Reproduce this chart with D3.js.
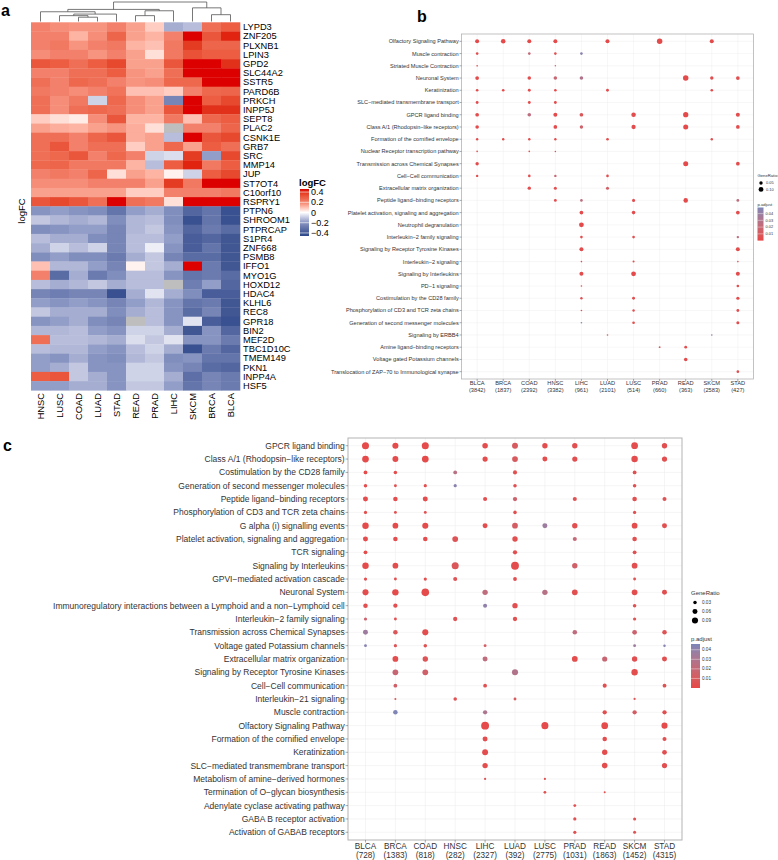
<!DOCTYPE html>
<html>
<head>
<meta charset="utf-8">
<script src="https://cdn.jsdelivr.net/npm/d3@7"></script>
<style>
  body { margin: 0; background: #fff; }
  text { font-family: "Liberation Sans", Arial, sans-serif; }
</style>
</head>
<body>
<div id="chart"></div>
<script>
// ---------- panel a: heatmap data ----------
const heatCancers = ["HNSC","LUSC","COAD","LUAD","STAD","READ","PRAD","LIHC","SKCM","BRCA","BLCA"];
const heatGenes = ["LYPD3","ZNF205","PLXNB1","LPIN3","GPD2","SLC44A2","SSTR5","PARD6B","PRKCH","INPP5J",
  "SEPT8","PLAC2","CSNK1E","GRB7","SRC","MMP14","JUP","ST7OT4","C10orf10","RSPRY1",
  "PTPN6","SHROOM1","PTPRCAP","S1PR4","ZNF668","PSMB8","IFFO1","MYO1G","HOXD12","HDAC4",
  "KLHL6","REC8","GPR18","BIN2","MEF2D","TBC1D10C","TMEM149","PKN1","INPP4A","HSF5"];
// rows follow heatGenes, columns follow heatCancers; null = not available (grey)
const logFC = [
  [0.20,0.18,0.17,0.17,0.20,0.15,0.08,-0.15,-0.12,0.25,0.30],
  [0.20,0.20,0.12,0.18,0.28,0.15,0.12,0.20,0.45,0.32,0.42],
  [0.20,0.22,0.17,0.20,0.22,0.12,0.10,0.22,0.38,0.28,0.28],
  [0.18,0.20,0.20,0.17,0.20,0.15,0.05,0.22,0.33,0.30,0.30],
  [0.32,0.30,0.25,0.30,0.35,0.15,0.15,0.32,0.45,0.45,0.40],
  [0.20,0.20,0.25,0.25,0.30,0.17,0.15,0.25,0.45,0.45,0.45],
  [0.25,0.20,0.27,0.25,0.20,0.17,0.18,0.27,0.27,0.45,0.45],
  [0.22,0.20,0.18,0.20,0.24,0.10,0.10,0.08,0.20,0.27,0.28],
  [0.25,0.18,0.22,-0.08,0.27,0.18,0.15,-0.25,0.45,0.30,0.35],
  [0.25,0.18,0.25,0.27,0.25,0.18,0.15,0.32,0.45,0.40,0.40],
  [0.08,0.05,0.03,0.18,0.32,0.12,0.12,0.22,0.10,0.27,0.30],
  [0.15,0.13,0.12,0.15,0.17,0.13,0.05,null,0.20,0.20,0.28],
  [0.25,0.25,0.20,0.28,0.32,0.13,0.15,-0.12,0.45,0.32,0.35],
  [0.25,0.32,0.20,0.25,0.25,0.08,0.15,0.27,0.15,0.30,0.25],
  [0.25,0.27,0.32,0.20,0.27,0.20,-0.08,-0.06,0.38,-0.18,0.35],
  [0.27,0.28,0.22,0.22,0.22,0.12,-0.12,0.30,0.42,0.22,0.30],
  [0.20,0.22,0.20,0.28,0.05,0.15,0.12,0.02,-0.08,0.30,0.35],
  [0.18,0.18,0.18,0.20,0.20,0.20,0.15,0.38,0.22,0.45,0.45],
  [0.15,0.15,0.15,0.15,0.15,0.08,0.08,0.20,0.20,0.20,0.22],
  [0.32,0.35,0.32,0.25,0.45,0.25,0.22,0.05,0.45,0.45,0.45],
  [-0.20,-0.18,-0.20,-0.22,-0.30,-0.18,-0.15,-0.22,-0.35,-0.30,-0.42],
  [-0.10,-0.13,-0.15,-0.13,-0.22,-0.13,-0.12,-0.22,-0.42,-0.30,-0.42],
  [-0.22,-0.20,-0.18,-0.18,-0.25,-0.13,-0.10,-0.20,-0.35,-0.28,-0.33],
  [-0.12,-0.15,-0.15,-0.22,-0.25,-0.12,-0.12,-0.18,-0.38,-0.35,-0.40],
  [-0.15,-0.08,-0.12,-0.08,-0.25,-0.12,-0.03,-0.20,-0.38,-0.30,-0.40],
  [-0.22,-0.18,-0.22,-0.22,-0.28,-0.15,-0.10,-0.25,-0.33,-0.33,-0.40],
  [0.10,-0.13,-0.13,-0.18,-0.25,0.02,-0.10,-0.15,0.45,-0.28,-0.40],
  [0.20,-0.33,-0.15,-0.28,-0.22,-0.12,-0.12,-0.20,-0.30,-0.28,-0.33],
  [-0.12,-0.15,-0.13,-0.10,-0.15,-0.12,-0.12,null,-0.27,-0.18,-0.35],
  [-0.25,-0.27,-0.25,-0.25,-0.42,-0.15,-0.05,-0.15,-0.22,-0.38,-0.38],
  [-0.18,-0.20,-0.18,-0.20,-0.25,-0.18,-0.13,-0.20,-0.30,-0.28,-0.40],
  [-0.10,-0.15,-0.15,-0.15,-0.22,-0.15,-0.12,-0.20,-0.33,-0.25,-0.40],
  [-0.20,-0.18,-0.15,-0.22,-0.25,null,-0.12,-0.20,-0.05,-0.38,-0.42],
  [-0.13,-0.13,-0.12,-0.18,-0.20,-0.08,-0.08,-0.15,-0.40,-0.20,-0.35],
  [0.25,-0.12,-0.12,-0.13,-0.15,-0.06,-0.10,-0.05,-0.20,-0.20,-0.28],
  [-0.12,-0.13,-0.13,-0.18,-0.20,-0.12,-0.08,-0.15,-0.42,-0.28,-0.35],
  [-0.18,-0.20,-0.15,-0.20,-0.22,-0.13,-0.10,-0.22,-0.20,-0.30,-0.30],
  [-0.18,-0.15,-0.10,-0.20,-0.20,-0.08,-0.08,-0.20,-0.25,-0.33,-0.35],
  [0.30,0.32,-0.10,-0.15,-0.20,-0.08,-0.08,-0.15,-0.32,-0.25,-0.28],
  [-0.18,-0.18,-0.15,-0.15,-0.20,-0.10,-0.10,-0.18,-0.30,-0.25,-0.28]
];
// column dendrogram (merge heights, relative)
const colTree = {h: 1.0, children: [
  {h: 0.62, children: [
    {h: 0.5, children: [{name: "HNSC"}, {h: 0.38, children: [
      {h: 0.3, children: [{name: "LUSC"}, {h: 0.22, children: [{name: "COAD"}, {name: "LUAD"}]}]},
      {name: "STAD"}]}]},
    {h: 0.55, children: [{h: 0.3, children: [{name: "READ"}, {name: "PRAD"}]}, {name: "LIHC"}]}
  ]},
  {h: 0.7, children: [{name: "SKCM"}, {h: 0.35, children: [{name: "BRCA"}, {name: "BLCA"}]}]}
]};
const logFCTicks = [0.4, 0.2, 0, -0.2, -0.4];

// ---------- panels b and c: enrichment dot plots ----------
const cancers = ["BLCA","BRCA","COAD","HNSC","LIHC","LUAD","LUSC","PRAD","READ","SKCM","STAD"];
const countsB = [3842,1837,2392,3382,961,2101,514,660,363,2583,427];
const countsC = [728,1383,818,282,2327,392,2775,1031,1863,1452,4315];

const pathwaysB = ["Olfactory Signaling Pathway","Muscle contraction","Striated Muscle Contraction","Neuronal System",
  "Keratinization","SLC\u2212mediated transmembrane transport","GPCR ligand binding","Class A/1 (Rhodopsin\u2212like receptors)",
  "Formation of the cornified envelope","Nuclear Receptor transcription pathway","Transmission across Chemical Synapses",
  "Cell\u2212Cell communication","Extracellular matrix organization","Peptide ligand\u2212binding receptors",
  "Platelet activation, signaling and aggregation","Neutrophil degranulation","Interleukin\u22122 family signaling",
  "Signaling by Receptor Tyrosine Kinases","Interleukin\u22122 signaling","Signaling by Interleukins","PD\u22121 signaling",
  "Costimulation by the CD28 family","Phosphorylation of CD3 and TCR zeta chains","Generation of second messenger molecules",
  "Signaling by ERBB4","Amine ligand\u2212binding receptors","Voltage gated Potassium channels",
  "Translocation of ZAP\u221270 to Immunological synapse"];
// each row: cancer -> [GeneRatio, p.adjust]
const dotsB = [
  {BLCA:[.07,.002], BRCA:[.09,.002], COAD:[.07,.002], HNSC:[.07,.002], LUAD:[.07,.002], PRAD:[.13,.002], SKCM:[.07,.002]},
  {BLCA:[.03,.004], COAD:[.03,.022], HNSC:[.03,.006], LIHC:[.03,.045]},
  {BLCA:[.012,.006], HNSC:[.01,.02]},
  {BLCA:[.06,.003], COAD:[.055,.004], HNSC:[.055,.02], LIHC:[.055,.03], READ:[.13,.002], SKCM:[.05,.004], STAD:[.06,.004]},
  {BLCA:[.03,.003], BRCA:[.03,.003], COAD:[.035,.003], HNSC:[.03,.003], LUAD:[.035,.003], SKCM:[.03,.003]},
  {BLCA:[.035,.003], COAD:[.035,.003], HNSC:[.035,.003]},
  {BLCA:[.06,.003], COAD:[.055,.025], HNSC:[.07,.003], LIHC:[.06,.008], LUSC:[.09,.003], READ:[.12,.002], STAD:[.07,.003]},
  {BLCA:[.055,.003], HNSC:[.06,.003], LIHC:[.05,.016], LUSC:[.08,.003], READ:[.11,.002], STAD:[.06,.003]},
  {BLCA:[.025,.003], BRCA:[.025,.003], COAD:[.025,.003], HNSC:[.025,.003], LUAD:[.03,.003], SKCM:[.025,.003]},
  {BLCA:[.012,.004], COAD:[.012,.004], HNSC:[.01,.005]},
  {BLCA:[.05,.003], READ:[.11,.002], STAD:[.06,.003]},
  {BLCA:[.025,.004], COAD:[.03,.004], HNSC:[.025,.02], LUAD:[.03,.004]},
  {COAD:[.05,.004], HNSC:[.04,.005], LUAD:[.04,.014]},
  {HNSC:[.035,.004], LIHC:[.03,.025], LUSC:[.04,.004], READ:[.09,.002], STAD:[.035,.025]},
  {LIHC:[.06,.003], LUSC:[.055,.003], STAD:[.06,.003]},
  {LIHC:[.1,.002]},
  {LIHC:[.03,.004], LUSC:[.03,.004], STAD:[.025,.025]},
  {LIHC:[.07,.003], STAD:[.07,.003]},
  {LIHC:[.012,.005], LUSC:[.018,.004], STAD:[.012,.01]},
  {LIHC:[.07,.003], LUSC:[.1,.002], STAD:[.07,.003]},
  {LIHC:[.012,.005], STAD:[.03,.004]},
  {LIHC:[.025,.005], LUSC:[.035,.004], STAD:[.045,.003]},
  {LIHC:[.012,.006], LUSC:[.025,.004], STAD:[.035,.003]},
  {LIHC:[.012,.045], LUSC:[.03,.004], STAD:[.04,.003]},
  {LUAD:[.012,.01], SKCM:[.012,.04]},
  {PRAD:[.015,.012], READ:[.035,.004]},
  {READ:[.055,.003]},
  {STAD:[.03,.004]}
];

const pathwaysC = ["GPCR ligand binding","Class A/1 (Rhodopsin\u2212like receptors)","Costimulation by the CD28 family",
  "Generation of second messenger molecules","Peptide ligand\u2212binding receptors","Phosphorylation of CD3 and TCR zeta chains",
  "G alpha (i) signalling events","Platelet activation, signaling and aggregation","TCR signaling","Signaling by Interleukins",
  "GPVI\u2212mediated activation cascade","Neuronal System",
  "Immunoregulatory interactions between a Lymphoid and a non\u2212Lymphoid cell","Interleukin\u22122 family signaling",
  "Transmission across Chemical Synapses","Voltage gated Potassium channels","Extracellular matrix organization",
  "Signaling by Receptor Tyrosine Kinases","Cell\u2212Cell communication","Interleukin\u221221 signaling","Muscle contraction",
  "Olfactory Signaling Pathway","Formation of the cornified envelope","Keratinization","SLC\u2212mediated transmembrane transport",
  "Metabolism of amine\u2212derived hormones","Termination of O\u2212glycan biosynthesis","Adenylate cyclase activating pathway",
  "GABA B receptor activation","Activation of GABAB receptors"];
const dotsC = [
  {BLCA:[.12,.002], BRCA:[.09,.002], COAD:[.12,.002], LIHC:[.075,.003], LUAD:[.085,.01], LUSC:[.07,.003], PRAD:[.07,.004], SKCM:[.11,.003], STAD:[.07,.004]},
  {BLCA:[.11,.002], BRCA:[.085,.002], COAD:[.11,.002], LIHC:[.065,.003], LUAD:[.08,.01], LUSC:[.06,.003], PRAD:[.065,.004], SKCM:[.10,.003], STAD:[.065,.004]},
  {BLCA:[.035,.003], BRCA:[.03,.003], HNSC:[.035,.025], LUAD:[.04,.004], SKCM:[.035,.004]},
  {BLCA:[.03,.003], BRCA:[.02,.004], COAD:[.025,.004], HNSC:[.025,.042], LUAD:[.03,.004], SKCM:[.03,.004]},
  {BLCA:[.06,.003], BRCA:[.05,.003], COAD:[.06,.003], LIHC:[.04,.004], LUAD:[.045,.016], PRAD:[.04,.006], SKCM:[.05,.004], STAD:[.04,.006]},
  {BLCA:[.025,.003], BRCA:[.02,.004], COAD:[.02,.004], LUAD:[.03,.004], SKCM:[.025,.004]},
  {BLCA:[.10,.002], BRCA:[.08,.002], COAD:[.09,.002], LIHC:[.06,.003], LUAD:[.08,.012], LUSC:[.06,.036], PRAD:[.07,.004], SKCM:[.08,.003], STAD:[.06,.004]},
  {BLCA:[.06,.003], BRCA:[.05,.003], COAD:[.05,.003], HNSC:[.08,.006], LUAD:[.07,.004], PRAD:[.04,.02], SKCM:[.05,.004]},
  {BLCA:[.035,.003], LUAD:[.045,.004], SKCM:[.035,.004]},
  {BLCA:[.10,.002], BRCA:[.08,.003], HNSC:[.12,.008], LUAD:[.15,.003], PRAD:[.07,.014], SKCM:[.08,.004]},
  {BLCA:[.025,.004], BRCA:[.02,.004], COAD:[.025,.004], HNSC:[.04,.006], LUAD:[.035,.004], SKCM:[.02,.005]},
  {BLCA:[.09,.003], BRCA:[.10,.002], COAD:[.14,.002], LIHC:[.07,.022], LUSC:[.07,.026], PRAD:[.08,.004], SKCM:[.08,.003], STAD:[.06,.004]},
  {BLCA:[.05,.004], BRCA:[.045,.004], LIHC:[.04,.04], LUAD:[.07,.004], SKCM:[.03,.005]},
  {BLCA:[.025,.016], BRCA:[.02,.005], HNSC:[.045,.006], LUAD:[.045,.005], SKCM:[.025,.005]},
  {BLCA:[.06,.036], BRCA:[.05,.008], COAD:[.09,.003], PRAD:[.05,.022], SKCM:[.055,.016], STAD:[.05,.006]},
  {BLCA:[.02,.043], BRCA:[.025,.006], COAD:[.03,.005], LIHC:[.02,.012], SKCM:[.02,.036], STAD:[.015,.043]},
  {BRCA:[.08,.003], COAD:[.07,.006], LIHC:[.06,.022], PRAD:[.08,.003], READ:[.065,.018], SKCM:[.07,.004], STAD:[.06,.004]},
  {BRCA:[.08,.018], COAD:[.08,.014], LUAD:[.09,.028], SKCM:[.10,.003]},
  {BRCA:[.035,.014], LIHC:[.035,.005], READ:[.04,.004], STAD:[.035,.005]},
  {BRCA:[.01,.008], HNSC:[.03,.005], LUAD:[.02,.01], SKCM:[.012,.008]},
  {BRCA:[.05,.045], LIHC:[.045,.03], READ:[.045,.004], SKCM:[.045,.012], STAD:[.045,.004]},
  {LIHC:[.15,.002], LUSC:[.12,.002], READ:[.11,.002], STAD:[.09,.002]},
  {LIHC:[.06,.003], READ:[.05,.003], STAD:[.04,.004]},
  {LIHC:[.085,.003], READ:[.07,.003], STAD:[.055,.004]},
  {LIHC:[.07,.003], READ:[.075,.003], STAD:[.065,.004]},
  {LIHC:[.012,.005], LUSC:[.012,.005]},
  {LUSC:[.018,.005], READ:[.01,.005]},
  {PRAD:[.02,.004]},
  {PRAD:[.025,.004], SKCM:[.022,.005]},
  {PRAD:[.025,.004], SKCM:[.022,.005]}
];
const ratioTicksB = [0.05, 0.10];
const ratioTicksC = [0.03, 0.06, 0.09];
const padjTicks = [0.04, 0.03, 0.02, 0.01];

// ---------- drawing ----------
const svg = d3.select("#chart").append("svg")
    .attr("width", 778).attr("height", 860);

const textCol = "#333333";

// panel letters
svg.append("text").attr("x", 1).attr("y", 16).text("a")
  .attr("font-size", 16).attr("font-weight", "bold");
svg.append("text").attr("x", 417).attr("y", 22).text("b")
  .attr("font-size", 16).attr("font-weight", "bold");
svg.append("text").attr("x", 3).attr("y", 451).text("c")
  .attr("font-size", 16).attr("font-weight", "bold");

// ===== panel a =====
const hx = d3.scaleBand().domain(heatCancers).range([31, 240]);
const hy = d3.scaleBand().domain(heatGenes).range([22.3, 390.3]);
const heatColor = d3.scaleLinear().domain([-0.45, -0.2, 0, 0.2, 0.45])
  .range(["#2d4989", "#8794c2", "#ffffff", "#f2806a", "#dd0000"])
  .interpolate(d3.interpolateLab).clamp(true);

const cells = heatGenes.flatMap((g, i) => heatCancers.map((c, j) => ({g, c, v: logFC[i][j]})));
const ga = svg.append("g");
ga.selectAll("rect.cell")
  .data(cells)
  .join("rect")
    .attr("class", "cell")
    .attr("x", d => hx(d.c))
    .attr("y", d => hy(d.g))
    .attr("width", hx.bandwidth() + 0.3)
    .attr("height", hy.bandwidth() + 0.3)
    .attr("fill", d => d.v === null ? "#bebebe" : heatColor(d.v));

ga.selectAll("text.row")
  .data(heatGenes)
  .join("text")
    .attr("class", "row")
    .attr("x", 243)
    .attr("y", d => hy(d) + hy.bandwidth() / 2)
    .attr("dy", "0.35em")
    .attr("font-size", 9.3)
    .text(d => d);

ga.selectAll("text.col")
  .data(heatCancers)
  .join("text")
    .attr("class", "col")
    .attr("transform", d => `translate(${hx(d) + hx.bandwidth() / 2},393) rotate(-90)`)
    .attr("text-anchor", "end")
    .attr("dy", "0.35em")
    .attr("font-size", 9.3)
    .text(d => d);

ga.append("text")
  .attr("transform", "translate(22,211) rotate(-90)")
  .attr("text-anchor", "middle")
  .attr("dy", "0.35em")
  .attr("font-size", 9.5)
  .text("logFC");

// dendrogram
const root = d3.hierarchy(colTree);
const dh = d3.scaleLinear().domain([0, 1]).range([21.5, 2]);
root.eachAfter(n => {
  if (!n.children) { n.px = hx(n.data.name) + hx.bandwidth() / 2; n.py = dh(0); }
  else { n.px = d3.mean(n.children, k => k.px); n.py = dh(n.data.h); }
});
const dendro = [];
root.each(n => {
  if (!n.children) return;
  const [l, r] = n.children;
  dendro.push(`M${l.px},${l.py}V${n.py}H${r.px}V${r.py}`);
});
ga.selectAll("path.dendro")
  .data(dendro)
  .join("path")
    .attr("d", d => d)
    .attr("fill", "none")
    .attr("stroke", "#555")
    .attr("stroke-width", 0.8);

// logFC legend
const lgY = d3.scaleLinear().domain([0.46, -0.46]).range([189, 236]);
const defs = svg.append("defs");
const gradA = defs.append("linearGradient").attr("id", "gradA")
  .attr("x1", 0).attr("x2", 0).attr("y1", 0).attr("y2", 1);
d3.range(0, 1.001, 0.05).forEach(t => {
  gradA.append("stop").attr("offset", t).attr("stop-color", heatColor(lgY.domain()[0] + t * (lgY.domain()[1] - lgY.domain()[0])));
});
ga.append("text").attr("x", 299).attr("y", 186).attr("font-size", 9.5)
  .attr("font-weight", "bold").text("logFC");
ga.append("rect").attr("x", 300).attr("y", 189).attr("width", 9).attr("height", 47)
  .attr("fill", "url(#gradA)");
ga.selectAll("text.lgA")
  .data(logFCTicks)
  .join("text")
    .attr("class", "lgA")
    .attr("x", 311)
    .attr("y", d => lgY(d))
    .attr("dy", "0.35em")
    .attr("font-size", 9)
    .text(d => d3.format(".1f")(d).replace("-", "\u2212").replace(/^0\.0$/, "0"));
ga.selectAll("line.lgA")
  .data(logFCTicks)
  .join("line")
    .attr("x1", 300).attr("x2", 309)
    .attr("y1", d => lgY(d)).attr("y2", d => lgY(d))
    .attr("stroke", "#fff").attr("stroke-width", 0.6);

// ===== dot plot helper =====
function dotPanel(opt) {
  const g = svg.append("g");
  const x = d3.scalePoint().domain(cancers).range([opt.left, opt.right]).padding(opt.padX);
  const y = d3.scalePoint().domain(opt.pathways).range([opt.top, opt.bottom]).padding(opt.padY);
  const size = d3.scaleSqrt().domain([0, opt.refRatio]).range([0, opt.refR]);
  const color = d3.scaleLinear().domain([0, opt.padjMax])
    .range(["#e84646", "#7b86b8"]).interpolate(d3.interpolateLab).clamp(true);

  // grid
  g.selectAll("line.gx").data(cancers).join("line")
    .attr("x1", d => x(d)).attr("x2", d => x(d))
    .attr("y1", opt.top).attr("y2", opt.bottom)
    .attr("stroke", "#ebebeb").attr("stroke-width", opt.grid);
  g.selectAll("line.gy").data(opt.pathways).join("line")
    .attr("y1", d => y(d)).attr("y2", d => y(d))
    .attr("x1", opt.left).attr("x2", opt.right)
    .attr("stroke", "#ebebeb").attr("stroke-width", opt.grid);

  // dots
  const pts = opt.pathways.flatMap((p, i) =>
    cancers.filter(c => opt.dots[i][c]).map(c => ({p, c, r: opt.dots[i][c][0], q: opt.dots[i][c][1]})));
  g.selectAll("circle.dot").data(pts).join("circle")
    .attr("cx", d => x(d.c)).attr("cy", d => y(d.p))
    .attr("r", d => size(d.r))
    .attr("fill", d => color(d.q));

  // border
  g.append("rect").attr("x", opt.left).attr("y", opt.top)
    .attr("width", opt.right - opt.left).attr("height", opt.bottom - opt.top)
    .attr("fill", "none").attr("stroke", "#b3b3b3").attr("stroke-width", opt.border);

  // y labels and ticks
  g.selectAll("line.ty").data(opt.pathways).join("line")
    .attr("x1", opt.left - opt.tick).attr("x2", opt.left)
    .attr("y1", d => y(d)).attr("y2", d => y(d))
    .attr("stroke", "#555").attr("stroke-width", 0.5);
  g.selectAll("text.ly").data(opt.pathways).join("text")
    .attr("x", opt.left - opt.tick - 0.8)
    .attr("y", d => y(d)).attr("dy", "0.35em")
    .attr("text-anchor", "end").attr("font-size", opt.fs).attr("fill", textCol)
    .text(d => d);

  // x labels and ticks
  g.selectAll("line.tx").data(cancers).join("line")
    .attr("x1", d => x(d)).attr("x2", d => x(d))
    .attr("y1", opt.bottom).attr("y2", opt.bottom + opt.tick)
    .attr("stroke", "#555").attr("stroke-width", 0.5);
  const xl = g.selectAll("text.lx").data(cancers).join("text")
    .attr("x", d => x(d)).attr("y", opt.bottom + opt.xLab1)
    .attr("text-anchor", "middle").attr("font-size", opt.fsx).attr("fill", textCol);
  xl.append("tspan").text(d => d);
  xl.append("tspan").attr("x", d => x(d)).attr("dy", opt.xLab2)
    .text((d, i) => `(${opt.counts[i]})`);

  // legend: GeneRatio
  const L = opt.legend;
  g.append("text").attr("x", L.x).attr("y", L.y1).attr("font-size", L.fsTitle)
    .attr("fill", textCol).text("GeneRatio");
  const keys = g.selectAll("g.key").data(opt.ratioTicks).join("g")
    .attr("transform", (d, i) => `translate(${L.x + L.dotDx},${L.y1 + L.dotY0 + i * L.dotStep})`);
  keys.append("circle").attr("r", d => size(d)).attr("fill", "#000");
  keys.append("text").attr("x", L.labDx).attr("dy", "0.35em")
    .attr("font-size", L.fsLab).attr("fill", textCol).text(d => d3.format(".2f")(d));

  // legend: p.adjust colour bar
  g.append("text").attr("x", L.x).attr("y", L.y2).attr("font-size", L.fsTitle)
    .attr("fill", textCol).text("p.adjust");
  const cb = d3.scaleLinear().domain([0, opt.padjMax]).range([L.barBottom, L.barTop]);
  const gid = "grad" + opt.id;
  const grad = defs.append("linearGradient").attr("id", gid)
    .attr("x1", 0).attr("x2", 0).attr("y1", 1).attr("y2", 0);
  d3.range(0, 1.001, 0.1).forEach(t => {
    grad.append("stop").attr("offset", t).attr("stop-color", color(t * opt.padjMax));
  });
  g.append("rect").attr("x", L.x).attr("y", L.barTop)
    .attr("width", L.barW).attr("height", L.barBottom - L.barTop)
    .attr("fill", `url(#${gid})`);
  g.selectAll("line.cbt").data(padjTicks).join("line")
    .attr("x1", L.x).attr("x2", L.x + L.barW)
    .attr("y1", d => cb(d)).attr("y2", d => cb(d))
    .attr("stroke", "#fff").attr("stroke-width", 0.4);
  g.selectAll("text.cbl").data(padjTicks).join("text")
    .attr("x", L.x + L.barW + 2).attr("y", d => cb(d)).attr("dy", "0.35em")
    .attr("font-size", L.fsLab).attr("fill", textCol).text(d => d3.format(".2f")(d));
}

// ===== panel b =====
dotPanel({
  id: "B", pathways: pathwaysB, dots: dotsB, counts: countsB, ratioTicks: ratioTicksB,
  left: 461.5, right: 753.5, top: 34, bottom: 379, padX: 0.6, padY: 0.6,
  refRatio: 0.1, refR: 2.4, padjMax: 0.049,
  grid: 0.4, border: 0.8, tick: 2, fs: 5.6, fsx: 5.7, xLab1: 6.3, xLab2: 7,
  legend: {x: 757.5, y1: 177, y2: 206, fsTitle: 4.2, fsLab: 3.9, dotDx: 3.5, dotY0: 6, dotStep: 6.4, labDx: 5,
           barTop: 207.5, barBottom: 240.6, barW: 6}
});

// ===== panel c =====
dotPanel({
  id: "C", pathways: pathwaysC, dots: dotsC, counts: countsC, ratioTicks: ratioTicksC,
  left: 348, right: 682, top: 438, bottom: 840, padX: 0.585, padY: 0.58,
  refRatio: 0.09, refR: 3.05, padjMax: 0.046,
  grid: 0.5, border: 1, tick: 2.5, fs: 8.5, fsx: 8.2, xLab1: 9.2, xLab2: 9.2,
  legend: {x: 691, y1: 595, y2: 641, fsTitle: 6, fsLab: 4.6, dotDx: 4, dotY0: 7.5, dotStep: 9, labDx: 7,
           barTop: 644, barBottom: 688, barW: 9}
});
</script>
</body>
</html>
